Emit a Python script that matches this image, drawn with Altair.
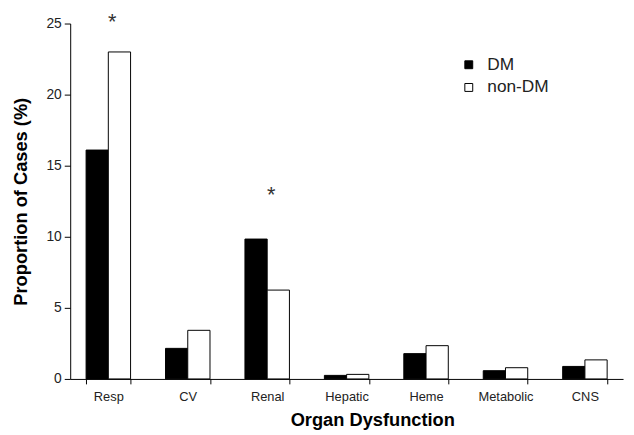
import altair as alt
import pandas as pd

categories = ["Resp", "CV", "Renal", "Hepatic", "Heme", "Metabolic", "CNS"]
dm_values = [16.1, 2.15, 9.84, 0.25, 1.78, 0.58, 0.88]
non_dm_values = [23.0, 3.42, 6.25, 0.32, 2.34, 0.79, 1.34]
groups = ["DM", "non-DM"]
star_categories = ["Resp", "Renal"]
star_values = [25.1, 12.9]

rows = []
for c, a, b in zip(categories, dm_values, non_dm_values):
    rows.append({"organ": c, "group": "DM", "value": a})
    rows.append({"organ": c, "group": "non-DM", "value": b})
df = pd.DataFrame(rows)
stars = pd.DataFrame({"organ": star_categories, "value": star_values, "label": ["*"] * len(star_categories)})

FONT = "Liberation Sans"

x_enc = alt.X(
    "organ:N",
    sort=categories,
    scale=alt.Scale(paddingInner=0.44),
    axis=alt.Axis(
        title="Organ Dysfunction",
        labelAngle=0,
        tickBand="extent",
        labelFontSize=13,
        labelColor="#222",
        labelPadding=7,
        tickSize=5,
        tickColor="black",
        domainColor="black",
        titleFontSize=18.5,
        titleFontWeight="bold",
        titleColor="black",
        titleX=306,
        titleY=41,
        titleAlign="center",
        titleBaseline="middle",
    ),
)

bars = alt.Chart(df).mark_bar(stroke="black", strokeWidth=1).encode(
    x=x_enc,
    xOffset=alt.XOffset("group:N", sort=groups),
    y=alt.Y(
        "value:Q",
        scale=alt.Scale(domain=[0, 25], nice=False),
        axis=alt.Axis(
            title="Proportion of Cases (%)",
            values=[0, 5, 10, 15, 20, 25],
            grid=False,
            labelFontSize=14,
            labelColor="#222",
            tickSize=6,
            tickColor="black",
            domainColor="black",
            labelPadding=3,
            titleFontSize=18.5,
            titleFontWeight="bold",
            titleColor="black",
            titleAngle=-90,
            titleX=-50,
            titleY=180,
            titleAlign="center",
            titleBaseline="middle",
        ),
    ),
    fill=alt.Fill(
        "group:N",
        sort=groups,
        scale=alt.Scale(domain=groups, range=["black", "white"]),
        legend=alt.Legend(
            title=None,
            orient="none",
            legendX=395,
            legendY=33,
            symbolType="square",
            symbolSize=64,
            symbolStrokeColor="black",
            symbolStrokeWidth=1,
            labelFontSize=17.5,
            labelColor="#222",
            labelOffset=10,
            rowPadding=4,
            padding=0,
        ),
    ),
)

star_layer = alt.Chart(stars).mark_text(fontSize=22, font=FONT, color="#333", baseline="middle", dx=4).encode(
    x=alt.X("organ:N", sort=categories),
    y=alt.Y("value:Q"),
    text="label:N",
)

chart = (
    alt.layer(bars, star_layer)
    .properties(
        width=560,
        height=360,
        autosize=alt.AutoSizeParams(type="none"),
        padding={"left": 63, "top": 13, "right": 3, "bottom": 50},
    )
    .configure(font=FONT)
    .configure_view(stroke=None)
)

chart.save("out.html", embed_options={"renderer": "svg", "actions": False})
